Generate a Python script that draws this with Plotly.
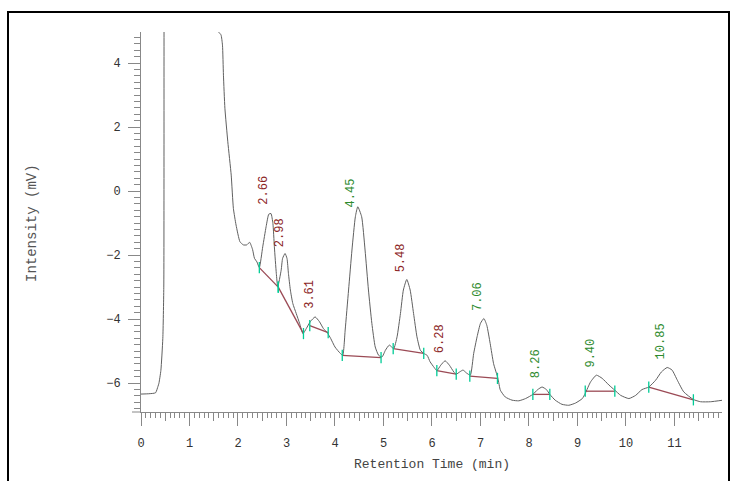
import plotly.graph_objects as go

# chromatogram trace (time in min, intensity in mV)
times = [0.00, 0.16, 0.30, 0.35, 0.37, 0.41, 0.45, 0.47, 0.475, 0.50, 1.50, 1.55, 1.597, 1.65, 1.68, 1.70, 1.73, 1.79,
         1.86, 1.905, 1.96, 2.04, 2.11, 2.18, 2.24, 2.30, 2.34, 2.39, 2.44, 2.51, 2.58, 2.635, 2.68, 2.72,
         2.75, 2.79, 2.82, 2.89, 2.92, 2.97, 3.01, 3.04, 3.08, 3.13, 3.20, 3.27, 3.34, 3.41, 3.49, 3.59,
         3.68, 3.76, 3.84, 3.91, 4.00, 4.11, 4.16, 4.21, 4.28, 4.35, 4.42, 4.47, 4.55, 4.62, 4.69, 4.76,
         4.83, 4.90, 4.97, 5.04, 5.12, 5.21, 5.28, 5.35, 5.41, 5.48, 5.55, 5.62, 5.69, 5.76, 5.83, 5.90,
         5.96, 6.05, 6.10, 6.18, 6.27, 6.36, 6.45, 6.50, 6.57, 6.64, 6.71, 6.79, 6.86, 6.93, 7.00, 7.07,
         7.13, 7.20, 7.27, 7.36, 7.41, 7.51, 7.65, 7.79, 7.93, 8.08, 8.18, 8.27, 8.36, 8.43, 8.54, 8.68,
         8.82, 8.96, 9.10, 9.16, 9.27, 9.39, 9.51, 9.65, 9.77, 9.89, 10.06, 10.20, 10.33, 10.47, 10.61,
         10.73, 10.85, 10.95, 11.06, 11.19, 11.39, 11.54, 11.74, 12.00]
intensity = [-6.34, -6.33, -6.30, -6.10, -6.00, -5.60, -4.60, -3.00, 6.0, 40.0, 40.0, 6.5, 4.98, 4.88, 4.56, 3.62, 2.59, 1.54,
             0.50, -0.54, -1.06, -1.58, -1.68, -1.68, -1.60, -1.82, -2.10, -2.21, -2.39, -1.74, -1.11, -0.72, -0.70, -1.01,
             -1.74, -2.57, -2.99, -2.47, -2.10, -1.95, -2.10, -2.57, -3.09, -3.51, -3.82, -4.13, -4.45, -4.29, -4.08, -3.93,
             -4.08, -4.29, -4.42, -4.60, -4.87, -5.07, -5.13, -4.34, -3.09, -1.84, -0.80, -0.49, -0.80, -1.84, -3.09, -4.13,
             -4.87, -5.13, -5.18, -4.97, -4.81, -4.92, -4.55, -3.82, -3.09, -2.76, -3.09, -3.82, -4.55, -4.97, -5.07, -5.13,
             -5.33, -5.52, -5.61, -5.44, -5.30, -5.44, -5.65, -5.72, -5.65, -5.59, -5.68, -5.75, -5.07, -4.55, -4.13, -3.98,
             -4.19, -4.76, -5.39, -5.85, -6.22, -6.43, -6.53, -6.55, -6.48, -6.35, -6.20, -6.12, -6.20, -6.35, -6.53, -6.66,
             -6.69, -6.62, -6.48, -6.32, -5.96, -5.75, -5.85, -6.06, -6.22, -6.38, -6.48, -6.38, -6.20, -6.12, -5.91,
             -5.65, -5.51, -5.59, -5.91, -6.27, -6.51, -6.58, -6.58, -6.53]

# integrated peaks
peak_labels = ["2.66", "2.98", "3.61", "4.45", "5.48", "6.28", "7.06", "8.26", "9.40", "10.85"]
peak_times = [2.66, 2.98, 3.61, 4.45, 5.48, 6.28, 7.06, 8.26, 9.40, 10.85]
label_base = [-0.44, -1.75, -3.69, -0.50, -2.53, -5.06, -3.75, -5.84, -5.50, -5.25]
label_group = ["r", "r", "r", "g", "r", "r", "g", "g", "g", "g"]

base_t0 = [2.44, 2.83, 3.48, 4.15, 5.20, 6.10, 6.78, 8.08, 9.16, 10.47]
base_v0 = [-2.39, -3.00, -4.20, -5.13, -4.92, -5.61, -5.78, -6.35, -6.25, -6.12]
base_t1 = [2.83, 3.35, 3.86, 4.95, 5.83, 6.50, 7.35, 8.43, 9.77, 11.39]
base_v1 = [-3.00, -4.45, -4.42, -5.20, -5.07, -5.72, -5.85, -6.35, -6.25, -6.52]

x_range = [0, 11.98]
y_range = [-6.9, 4.97]
medium_ticks = [0.5, 1.5, 2.5, 3.5, 4.5, 5.5, 6.5, 7.5, 8.5, 9.5, 10.5, 11.5]

TRACE = "#606060"
BASE = "#9b4a55"
TICKC = "#3a9fb0"
COL = {"r": "#8b2525", "g": "#2e8b2e"}
FONT = "Liberation Mono, Courier New, monospace"
AX = "#888888"

fig = go.Figure()
fig.add_trace(go.Scatter(x=times, y=intensity, mode="lines",
                         line=dict(color=TRACE, width=1, shape="spline", smoothing=0.5),
                         hoverinfo="skip", showlegend=False))

bx, by = [], []
for a, b, c, d in zip(base_t0, base_v0, base_t1, base_v1):
    bx += [a, c, None]
    by += [b, d, None]
fig.add_trace(go.Scatter(x=bx, y=by, mode="lines", line=dict(color=BASE, width=1.3),
                         hoverinfo="skip", showlegend=False))
fig.add_trace(go.Scatter(x=base_t0 + base_t1, y=base_v0 + base_v1, mode="markers",
                         marker=dict(symbol="line-ns-open", size=8, line=dict(color=TICKC, width=1.3)),
                         hoverinfo="skip", showlegend=False))
fig.add_trace(go.Scatter(x=[None], y=[None], xaxis="x2", showlegend=False, hoverinfo="skip"))

for lab, t, v, g in zip(peak_labels, peak_times, label_base, label_group):
    fig.add_annotation(x=t, y=v, text=lab, textangle=-90, showarrow=False,
                       xanchor="center", yanchor="bottom", xshift=-6, yshift=-2,
                       font=dict(family=FONT, size=12, color=COL[g]))

L, R, T, B = 141, 9, 32, 69
W, H = 731, 481
pw, ph = W - L - R, H - T - B

def px(x):
    return (x - L) / pw

def py(y):
    return (H - B - y) / ph

fig.add_shape(type="rect", xref="paper", yref="paper", x0=px(8), x1=px(729), y0=py(495), y1=py(12),
              line=dict(color="black", width=2))
fig.add_shape(type="line", xref="paper", yref="paper", x0=px(132), x1=0, y0=0, y1=0,
              line=dict(color=AX, width=1))

fig.add_annotation(xref="paper", yref="paper", x=0.5, y=py(465), text="Retention Time (min)", showarrow=False,
                   xanchor="center", yanchor="middle", font=dict(family=FONT, size=13, color="#444444"))
fig.add_annotation(xref="paper", yref="paper", x=px(32), y=py(223), text="Intensity (mV)", showarrow=False,
                   textangle=-90, xanchor="center", yanchor="middle", font=dict(family=FONT, size=14, color="#555555"))

fig.update_layout(
    width=W, height=H, margin=dict(l=L, r=R, t=T, b=B),
    plot_bgcolor="white", paper_bgcolor="white",
    xaxis=dict(range=x_range, dtick=1, tick0=0, showgrid=False, zeroline=False, showline=True,
               linecolor=AX, linewidth=1, ticks="outside", ticklen=13, tickcolor=AX, tickwidth=1,
               tickfont=dict(family=FONT, size=12, color="#333333"), ticklabelstandoff=7,
               minor=dict(dtick=0.1, ticks="outside", ticklen=5, tickcolor=AX, tickwidth=1, showgrid=False)),
    xaxis2=dict(range=x_range, overlaying="x", anchor="y", side="bottom", tickvals=medium_ticks,
                ticks="outside", ticklen=8, tickcolor=AX, tickwidth=1, showticklabels=False,
                showgrid=False, zeroline=False, showline=False),
    yaxis=dict(range=y_range, dtick=2, tick0=0, showgrid=False, zeroline=False, showline=True,
               linecolor=AX, linewidth=1, ticks="outside", ticklen=12, tickcolor=AX, tickwidth=1,
               tickfont=dict(family=FONT, size=12, color="#333333"), ticklabelstandoff=5,
               minor=dict(dtick=0.2, ticks="outside", ticklen=6, tickcolor=AX, tickwidth=1, showgrid=False)),
)

fig.write_html("out.html", config={"displayModeBar": False},
               post_script="document.body.style.margin='0';document.body.style.overflow='hidden';")
